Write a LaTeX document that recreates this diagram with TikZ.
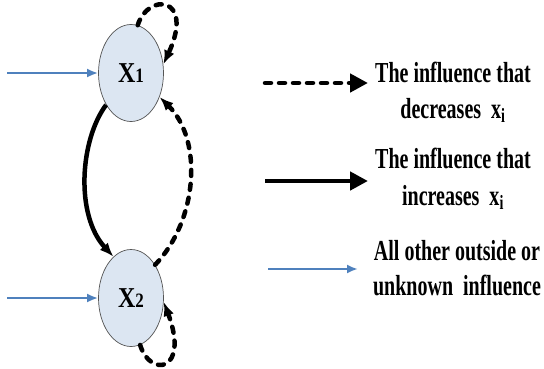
\documentclass[tikz,border=0pt]{standalone}
\usepackage{fontspec}
\setmainfont{Liberation Serif}
\usepackage{graphicx}
\usetikzlibrary{arrows.meta, shapes.geometric}
\definecolor{nodeblue}{HTML}{DCE6F2}
\definecolor{nodeedge}{HTML}{555555}
\definecolor{outblue}{HTML}{4F81BD}
\newcommand{\tallt}[1]{\scalebox{1}[1.45]{#1}}
\newcommand{\varlabel}[1]{\scalebox{1}[1.2]{X{\fontsize{17}{17}\selectfont #1}}}
\tikzset{
	xnode/.style={ellipse, draw=nodeedge, fill=nodeblue, minimum width=65pt,
		minimum height=97pt, inner sep=0pt, line width=0.7pt,
		font=\fontsize{24}{24}\selectfont\bfseries},
	decarr/.style={-{Latex[length=14pt,width=11pt]}, line width=4.5pt,
		line cap=round, dash pattern=on 6pt off 8pt},
	incarr/.style={-{Latex[length=14pt,width=11pt]}, line width=4.5pt},
	outarr/.style={-{Latex[length=11pt,width=9pt]}, line width=2.2pt, draw=outblue},
	legtip/.style={-{Triangle[length=18pt,width=18pt]}},
	legtext/.style={anchor=base, inner sep=0pt, font=\fontsize{20}{20}\selectfont\bfseries}
}

\begin{document}
\begin{tikzpicture}[x=1pt, y=-1pt]
	\useasboundingbox (0,0) rectangle (544,368);
	\node[xnode] (x1) at (131,73) {\varlabel{1}};
	\node[xnode] (x2) at (131,298) {\varlabel{2}};
	\coordinate (in1) at (7,73);
	\coordinate (in2) at (7,298);
	\draw[outarr] (in1) -- (x1);
	\draw[outarr] (in2) -- (x2);
	\draw[decarr] (x1.82) .. controls (148,-8) and (195,-4) .. (x1.15);
	\draw[incarr] (x1.232) .. controls (80,140) and (75,215) .. (x2.113);
	\draw[decarr] (x2.54) .. controls (198,220) and (203,140) .. (x1.320);
	\draw[decarr] (x2.281) .. controls (150,378) and (190,372) .. (x2.353);
	\coordinate (dec0) at (265,83);
	\coordinate (dec1) at (368,83);
	\coordinate (inc0) at (265,181);
	\coordinate (inc1) at (368,181);
	\coordinate (out0) at (268,269);
	\coordinate (out1) at (358,269);
	\draw[decarr, legtip] (dec0) -- (dec1);
	\draw[incarr, legtip] (inc0) -- (inc1);
	\draw[outarr] (out0) -- (out1);
	\node[legtext] (dec a) at (453,82) {\tallt{The influence that}};
	\node[legtext] (dec b) at (453,118) {\tallt{decreases\ \ x\textsubscript{i}}};
	\node[legtext] (inc a) at (453,168) {\tallt{The influence that}};
	\node[legtext] (inc b) at (453,205) {\tallt{increases\ \ x\textsubscript{i}}};
	\node[legtext] (out a) at (457,260) {\tallt{All other outside or}};
	\node[legtext] (out b) at (457,295) {\tallt{unknown\ \ influence}};
\end{tikzpicture}
\end{document}
